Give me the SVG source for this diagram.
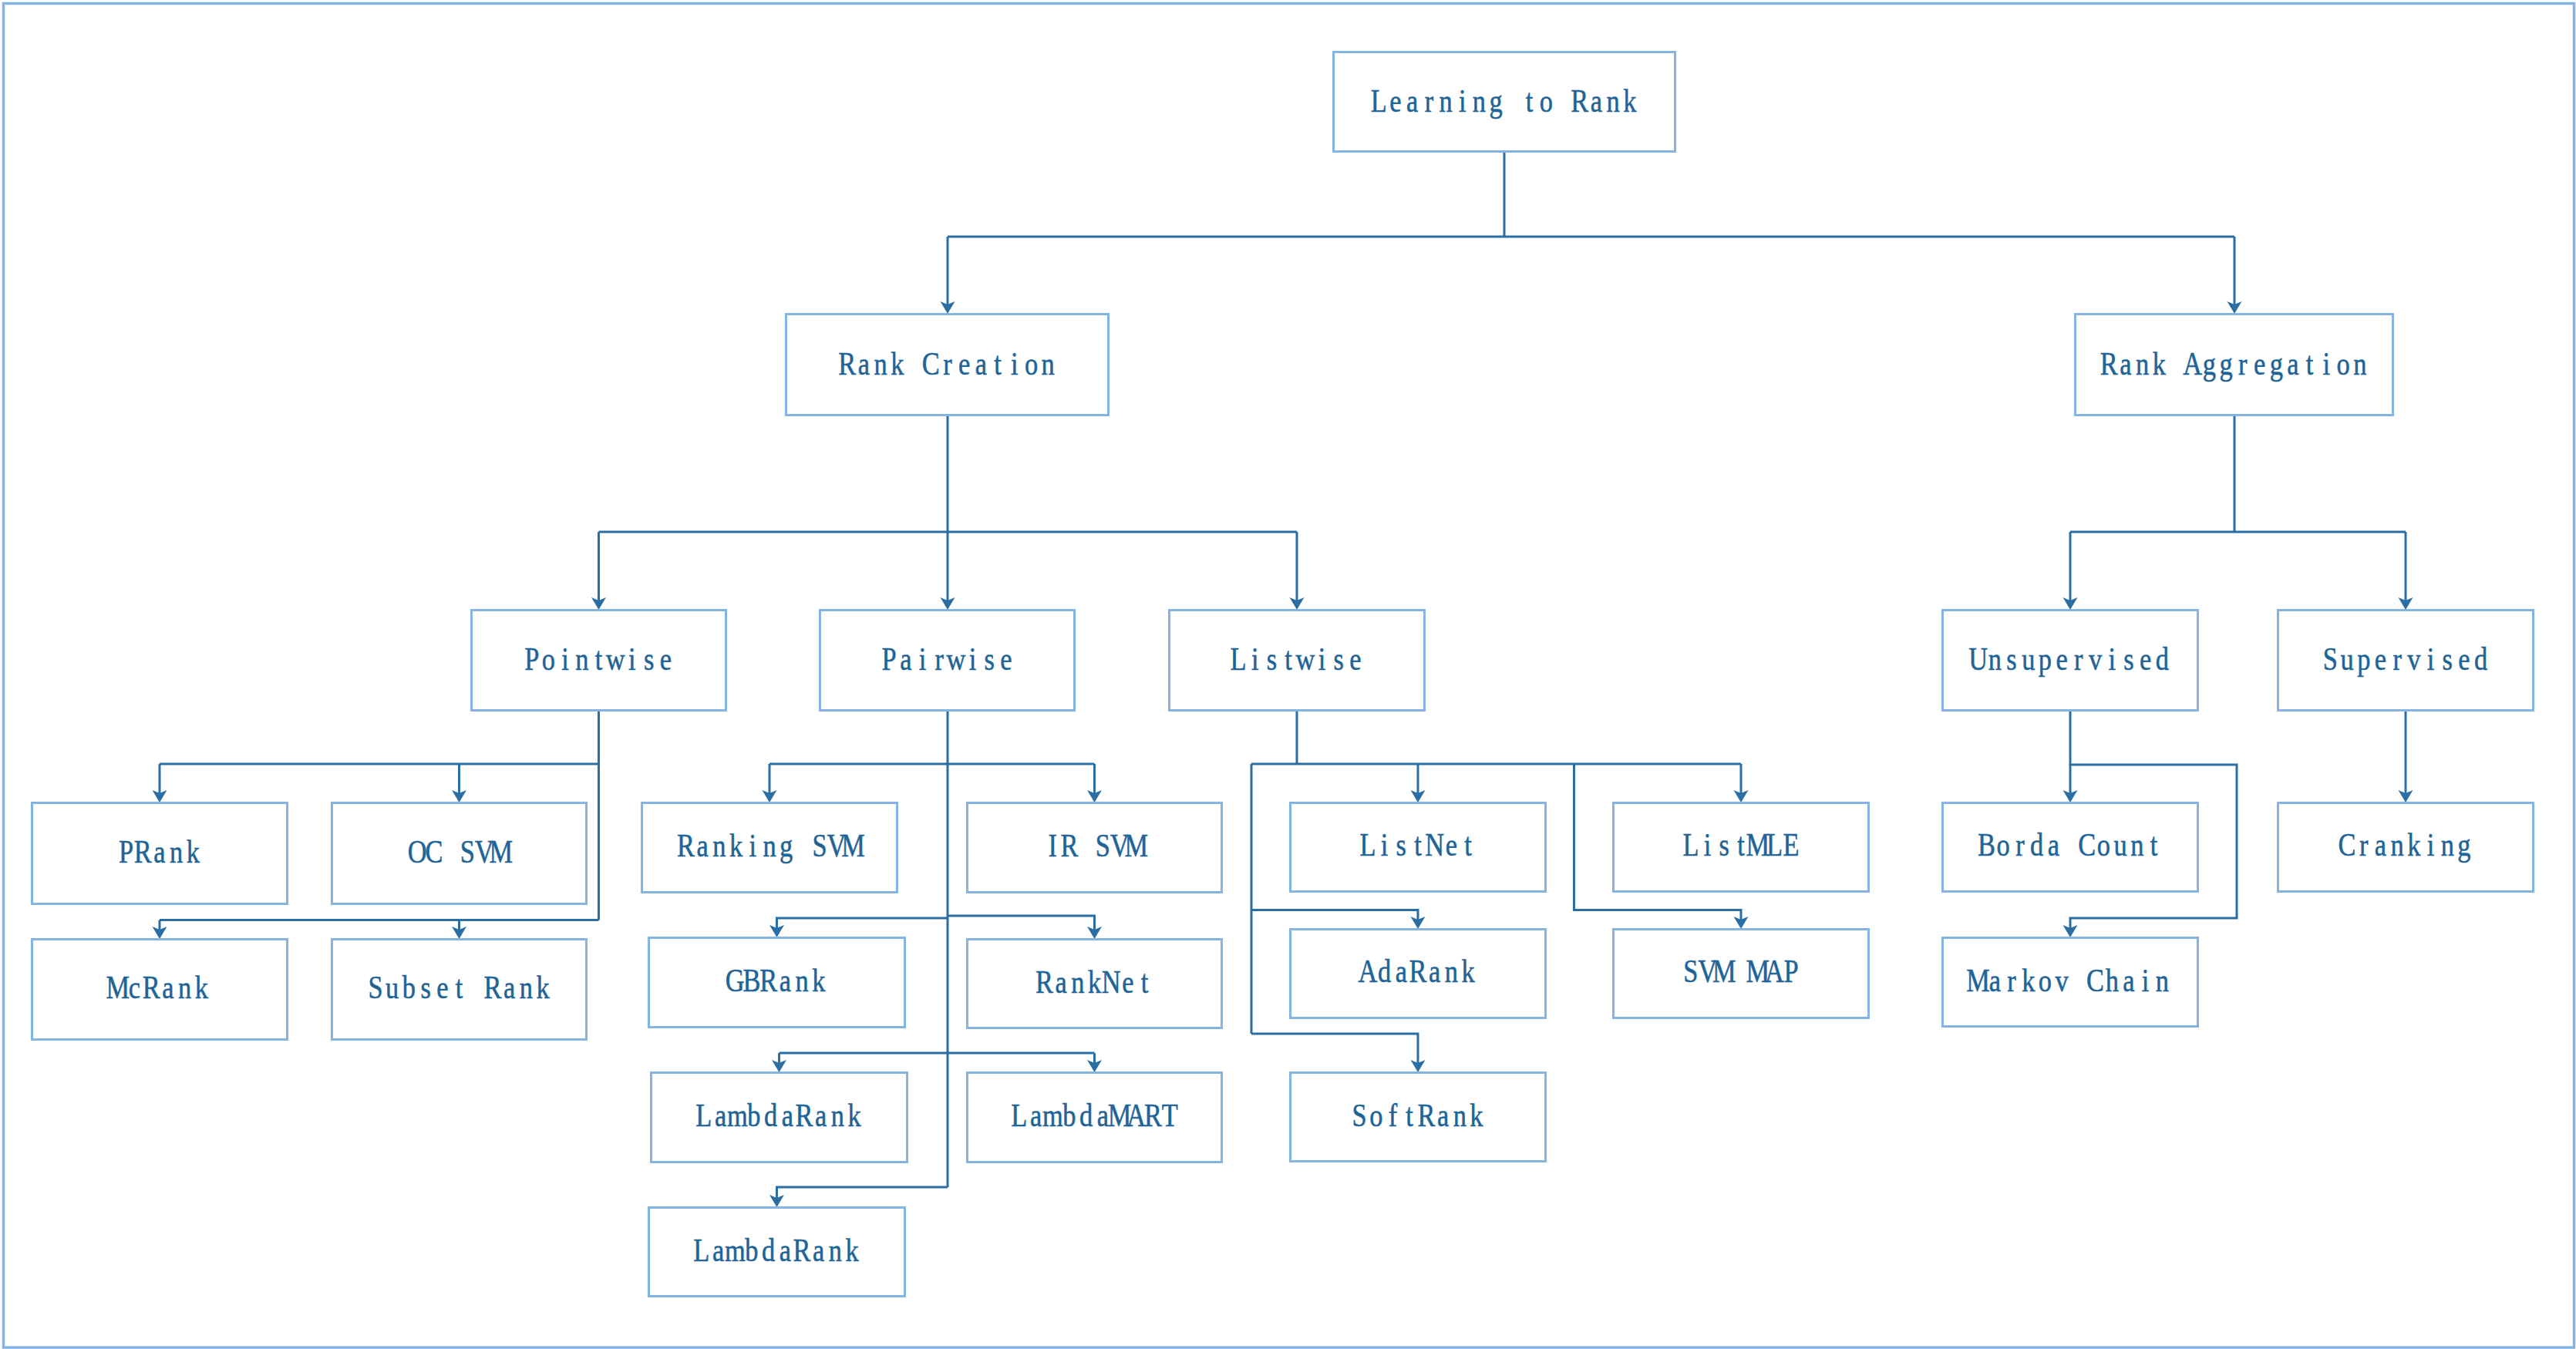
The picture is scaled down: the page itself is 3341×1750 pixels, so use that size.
<svg xmlns="http://www.w3.org/2000/svg" width="3341" height="1750" viewBox="0 0 3341 1750">
  <style>
    .box { fill: #ffffff; stroke: #85B4E3; stroke-width: 3; }
    .lbl { font-family: "Liberation Serif", "DejaVu Serif", serif; font-size: 43px; fill: #1F6496; stroke: #1F6496; stroke-width: 0.6; text-anchor: middle; }
    .wire { fill: none; stroke: #2A6EA3; stroke-width: 3; }
    .arr { fill: none; stroke: #2A6EA3; stroke-width: 3; marker-end: url(#head); }
  </style>
  <defs>
    <marker id="head" markerUnits="userSpaceOnUse" markerWidth="18" markerHeight="20" viewBox="-5 -10 18 20" refX="0" refY="0" orient="auto" overflow="visible">
      <path d="M12,0 L-4,-9.5 L0,0 L-4,9.5 Z" fill="#2A6EA3"/>
    </marker>
  </defs>

  <!-- outer frame -->
  <rect x="4.5" y="4.5" width="3334" height="1743.5" fill="#ffffff" stroke="#85B4E3" stroke-width="3.5"/>

  <!-- connectors -->
  <g id="connectors">
    <!-- root -->
    <path class="wire" d="M1951,197 V307 M1229,307 H2898"/>
    <path class="arr" d="M1229,307 V395"/>
    <path class="arr" d="M2898,307 V395"/>
    <!-- Rank Creation -->
    <path class="wire" d="M1229,539 V690 M776.5,690 H1682"/>
    <path class="arr" d="M776.5,690 V779"/>
    <path class="arr" d="M1229,690 V779"/>
    <path class="arr" d="M1682,690 V779"/>
    <!-- Rank Aggregation -->
    <path class="wire" d="M2898,539 V690 M2685,690 H3120"/>
    <path class="arr" d="M2685,690 V779"/>
    <path class="arr" d="M3120,690 V779"/>
    <!-- Pointwise -->
    <path class="wire" d="M776.5,922 V1193.5 M207,991 H776.5 M207,1193.5 H776.5"/>
    <path class="arr" d="M207,991 V1029"/>
    <path class="arr" d="M595.5,991 V1029"/>
    <path class="arr" d="M207,1193.5 V1206"/>
    <path class="arr" d="M595.5,1193.5 V1206"/>
    <!-- Pairwise -->
    <path class="wire" d="M1229,922 V1540 M998,991 H1419.5"/>
    <path class="arr" d="M998,991 V1029"/>
    <path class="arr" d="M1419.5,991 V1029"/>
    <path class="arr" d="M1229,1191 H1007.5 V1204"/>
    <path class="arr" d="M1229,1188 H1419.5 V1206"/>
    <path class="wire" d="M1010.5,1366 H1419.5"/>
    <path class="arr" d="M1010.5,1366 V1379"/>
    <path class="arr" d="M1419.5,1366 V1379"/>
    <path class="arr" d="M1229,1540 H1007.5 V1554"/>
    <!-- Listwise -->
    <path class="wire" d="M1682,922 V991 M1623,991 H2258 M1623,991 V1341"/>
    <path class="arr" d="M1839,991 V1029"/>
    <path class="arr" d="M2258,991 V1029"/>
    <path class="arr" d="M2041.5,991 V1180.5 H2258 V1193"/>
    <path class="arr" d="M1623,1180.5 H1839 V1193"/>
    <path class="arr" d="M1623,1341 H1839 V1379"/>
    <!-- Unsupervised -->
    <path class="arr" d="M2685,922 V1029"/>
    <path class="arr" d="M2685,992 H2901 V1191 H2685 V1204"/>
    <!-- Supervised -->
    <path class="arr" d="M3120,922 V1029"/>
  </g>

  <!-- labels are set on a fixed character pitch, each glyph centred in its cell -->

  <!-- level 0 -->
  <g id="learning-to-rank"><rect class="box" x="1729.5" y="67.5" width="443" height="129"/>
    <g transform="translate(1951 0) scale(0.8 1)"><text class="lbl" x="-203.44 -176.31 -149.19 -122.06 -94.94 -67.81 -40.69 -13.56 13.56 40.69 67.81 94.94 122.06 149.19 176.31 203.44" y="145">Learning to Rank</text></g></g>

  <!-- level 1 -->
  <g id="rank-creation"><rect class="box" x="1019.5" y="407.5" width="418" height="131"/>
    <g transform="translate(1229 0) scale(0.8 1)"><text class="lbl" x="-162.75 -135.63 -108.5 -81.38 -54.25 -27.13 0 27.13 54.25 81.38 108.5 135.63 162.75" y="486">Rank Creation</text></g></g>
  <g id="rank-aggregation"><rect class="box" x="2691.5" y="407.5" width="412" height="131"/>
    <g transform="translate(2898 0) scale(0.8 1)"><text class="lbl" x="-203.44 -176.31 -149.19 -122.06 -94.94 -67.81 -40.69 -13.56 13.56 40.69 67.81 94.94 122.06 149.19 176.31 203.44" y="486">Rank Aggregation</text></g></g>

  <!-- level 2 -->
  <g id="pointwise"><rect class="box" x="611.5" y="791.5" width="330" height="130"/>
    <g transform="translate(776.5 0) scale(0.8 1)"><text class="lbl" x="-108.5 -81.38 -54.25 -27.13 0 27.13 54.25 81.38 108.5" y="869">Pointwise</text></g></g>
  <g id="pairwise"><rect class="box" x="1063.5" y="791.5" width="330" height="130"/>
    <g transform="translate(1229 0) scale(0.8 1)"><text class="lbl" x="-94.94 -67.81 -40.69 -13.56 13.56 40.69 67.81 94.94" y="869">Pairwise</text></g></g>
  <g id="listwise"><rect class="box" x="1516.5" y="791.5" width="331" height="130"/>
    <g transform="translate(1682 0) scale(0.8 1)"><text class="lbl" x="-94.94 -67.81 -40.69 -13.56 13.56 40.69 67.81 94.94" y="869">Listwise</text></g></g>
  <g id="unsupervised"><rect class="box" x="2519.5" y="791.5" width="331" height="130"/>
    <g transform="translate(2685 0) scale(0.8 1)"><text class="lbl" x="-149.19 -122.06 -94.94 -67.81 -40.69 -13.56 13.56 40.69 67.81 94.94 122.06 149.19" y="869">Unsupervised</text></g></g>
  <g id="supervised"><rect class="box" x="2954.5" y="791.5" width="331" height="130"/>
    <g transform="translate(3120 0) scale(0.8 1)"><text class="lbl" x="-122.06 -94.94 -67.81 -40.69 -13.56 13.56 40.69 67.81 94.94 122.06" y="869">Supervised</text></g></g>

  <!-- pointwise methods -->
  <g id="prank"><rect class="box" x="41.5" y="1041.5" width="331" height="131"/>
    <g transform="translate(207 0) scale(0.8 1)"><text class="lbl" x="-54.25 -27.13 0 27.13 54.25" y="1119">PRank</text></g></g>
  <g id="oc-svm"><rect class="box" x="430.5" y="1041.5" width="330" height="131"/>
    <g transform="translate(595.5 0) scale(0.8 1)"><text class="lbl" x="-67.81 -40.69 -13.56 13.56 40.69 67.81" y="1119">OC SVM</text></g></g>
  <g id="mcrank"><rect class="box" x="41.5" y="1218.5" width="331" height="130"/>
    <g transform="translate(207 0) scale(0.8 1)"><text class="lbl" x="-67.81 -40.69 -13.56 13.56 40.69 67.81" y="1295">McRank</text></g></g>
  <g id="subset-rank"><rect class="box" x="430.5" y="1218.5" width="330" height="130"/>
    <g transform="translate(595.5 0) scale(0.8 1)"><text class="lbl" x="-135.63 -108.5 -81.38 -54.25 -27.13 0 27.13 54.25 81.38 108.5 135.63" y="1295">Subset Rank</text></g></g>

  <!-- pairwise methods -->
  <g id="ranking-svm"><rect class="box" x="832.5" y="1041.5" width="331" height="116"/>
    <g transform="translate(998 0) scale(0.8 1)"><text class="lbl" x="-135.63 -108.5 -81.38 -54.25 -27.13 0 27.13 54.25 81.38 108.5 135.63" y="1111">Ranking SVM</text></g></g>
  <g id="ir-svm"><rect class="box" x="1254.5" y="1041.5" width="330" height="116"/>
    <g transform="translate(1419.5 0) scale(0.8 1)"><text class="lbl" x="-67.81 -40.69 -13.56 13.56 40.69 67.81" y="1111">IR SVM</text></g></g>
  <g id="gbrank"><rect class="box" x="841.5" y="1216.5" width="332" height="116"/>
    <g transform="translate(1007.5 0) scale(0.8 1)"><text class="lbl" x="-67.81 -40.69 -13.56 13.56 40.69 67.81" y="1286">GBRank</text></g></g>
  <g id="ranknet"><rect class="box" x="1254.5" y="1218.5" width="330" height="115"/>
    <g transform="translate(1419.5 0) scale(0.8 1)"><text class="lbl" x="-81.38 -54.25 -27.13 0 27.13 54.25 81.38" y="1288">RankNet</text></g></g>
  <g id="lambdarank"><rect class="box" x="844.5" y="1391.5" width="332" height="116"/>
    <g transform="translate(1010.5 0) scale(0.8 1)"><text class="lbl" x="-122.06 -94.94 -67.81 -40.69 -13.56 13.56 40.69 67.81 94.94 122.06" y="1461">LambdaRank</text></g></g>
  <g id="lambdamart"><rect class="box" x="1254.5" y="1391.5" width="330" height="116"/>
    <g transform="translate(1419.5 0) scale(0.8 1)"><text class="lbl" x="-122.06 -94.94 -67.81 -40.69 -13.56 13.56 40.69 67.81 94.94 122.06" y="1461">LambdaMART</text></g></g>
  <g id="lambdarank-2"><rect class="box" x="841.5" y="1566.5" width="332" height="115"/>
    <g transform="translate(1007.5 0) scale(0.8 1)"><text class="lbl" x="-122.06 -94.94 -67.81 -40.69 -13.56 13.56 40.69 67.81 94.94 122.06" y="1636">LambdaRank</text></g></g>

  <!-- listwise methods -->
  <g id="listnet"><rect class="box" x="1673.5" y="1041.5" width="331" height="115"/>
    <g transform="translate(1839 0) scale(0.8 1)"><text class="lbl" x="-81.38 -54.25 -27.13 0 27.13 54.25 81.38" y="1110">ListNet</text></g></g>
  <g id="listmle"><rect class="box" x="2092.5" y="1041.5" width="331" height="115"/>
    <g transform="translate(2258 0) scale(0.8 1)"><text class="lbl" x="-81.38 -54.25 -27.13 0 27.13 54.25 81.38" y="1110">ListMLE</text></g></g>
  <g id="adarank"><rect class="box" x="1673.5" y="1205.5" width="331" height="115"/>
    <g transform="translate(1839 0) scale(0.8 1)"><text class="lbl" x="-81.38 -54.25 -27.13 0 27.13 54.25 81.38" y="1274">AdaRank</text></g></g>
  <g id="svm-map"><rect class="box" x="2092.5" y="1205.5" width="331" height="115"/>
    <g transform="translate(2258 0) scale(0.8 1)"><text class="lbl" x="-81.38 -54.25 -27.13 0 27.13 54.25 81.38" y="1274">SVM MAP</text></g></g>
  <g id="softrank"><rect class="box" x="1673.5" y="1391.5" width="331" height="115"/>
    <g transform="translate(1839 0) scale(0.8 1)"><text class="lbl" x="-94.94 -67.81 -40.69 -13.56 13.56 40.69 67.81 94.94" y="1461">SoftRank</text></g></g>

  <!-- aggregation methods -->
  <g id="borda-count"><rect class="box" x="2519.5" y="1041.5" width="331" height="115"/>
    <g transform="translate(2685 0) scale(0.8 1)"><text class="lbl" x="-135.63 -108.5 -81.38 -54.25 -27.13 0 27.13 54.25 81.38 108.5 135.63" y="1110">Borda Count</text></g></g>
  <g id="cranking"><rect class="box" x="2954.5" y="1041.5" width="331" height="115"/>
    <g transform="translate(3120 0) scale(0.8 1)"><text class="lbl" x="-94.94 -67.81 -40.69 -13.56 13.56 40.69 67.81 94.94" y="1110">Cranking</text></g></g>
  <g id="markov-chain"><rect class="box" x="2519.5" y="1216.5" width="331" height="115"/>
    <g transform="translate(2685 0) scale(0.8 1)"><text class="lbl" x="-149.19 -122.06 -94.94 -67.81 -40.69 -13.56 13.56 40.69 67.81 94.94 122.06 149.19" y="1286">Markov Chain</text></g></g>
</svg>
